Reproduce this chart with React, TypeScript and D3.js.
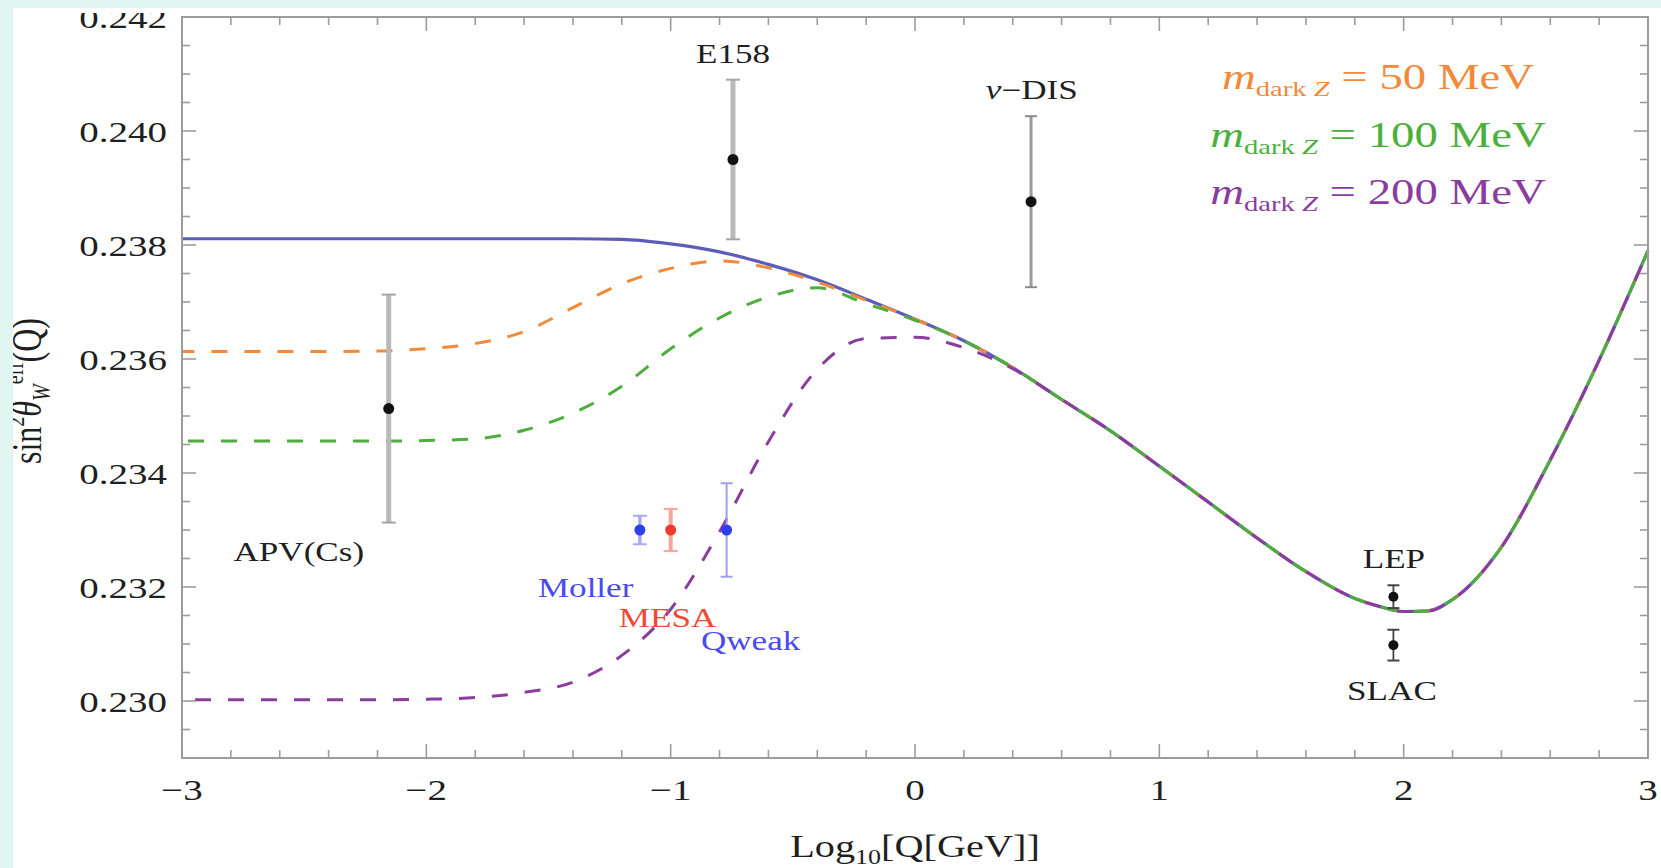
import React, { useLayoutEffect, useRef, useState } from "react";
import * as d3 from "d3";

// ---------- data ----------
const xGrid = [-3, -2.5, -2.2, -2.0, -1.8, -1.6, -1.4, -1.2, -1.0, -0.8, -0.6, -0.4, -0.2, 0, 0.2, 0.4, 0.6, 0.8, 1.0, 1.2, 1.4, 1.6, 1.8, 1.9, 2.0, 2.1, 2.2, 2.4, 2.6, 2.8, 3.0];

const smCurve = [0.23811, 0.23811, 0.23811, 0.23811, 0.23811, 0.23811, 0.23811, 0.2381, 0.23802, 0.23788, 0.23766, 0.23739, 0.23705, 0.2367, 0.23632, 0.23585, 0.23529, 0.23474, 0.23412, 0.23349, 0.23286, 0.23227, 0.2318, 0.23166, 0.23157, 0.23158, 0.23178, 0.2327, 0.23423, 0.23598, 0.2379];

const dark50 = [0.23613, 0.23613, 0.23614, 0.23618, 0.23627, 0.23648, 0.2369, 0.23732, 0.23759, 0.23772, 0.2376, 0.23735, 0.23703, 0.2367, 0.23632, 0.23585, 0.23529, 0.23474, 0.23412, 0.23349, 0.23286, 0.23227, 0.2318, 0.23166, 0.23157, 0.23158, 0.23178, 0.2327, 0.23423, 0.23598, 0.2379];

const dark100 = [0.23456, 0.23456, 0.23456, 0.23457, 0.2346, 0.23475, 0.23505, 0.23552, 0.23618, 0.23672, 0.23709, 0.23725, 0.23697, 0.23668, 0.23632, 0.23585, 0.23529, 0.23474, 0.23412, 0.23349, 0.23286, 0.23227, 0.2318, 0.23166, 0.23157, 0.23158, 0.23178, 0.2327, 0.23423, 0.23598, 0.2379];

const dark200 = [0.23002, 0.23002, 0.23002, 0.23003, 0.23006, 0.23015, 0.23033, 0.2308, 0.23161, 0.23297, 0.23455, 0.23582, 0.23636, 0.23638, 0.2362, 0.23583, 0.23529, 0.23474, 0.23412, 0.23349, 0.23286, 0.23227, 0.2318, 0.23166, 0.23157, 0.23158, 0.23178, 0.2327, 0.23423, 0.23598, 0.2379];

const pointNames = ["APV(Cs)", "E158", "nuDIS", "Moller", "MESA", "Qweak", "LEP", "SLAC"];
const pointX = [-2.154, -0.745, 0.475, -1.126, -1.0, -0.771, 1.958, 1.958];
const pointY = [0.23513, 0.2395, 0.23876, 0.233, 0.233, 0.233, 0.23183, 0.23098];
const pointErr = [0.002, 0.0014, 0.0015, 0.00025, 0.00037, 0.00082, 0.0002, 0.00027];

const labelTexts = ["APV(Cs)", "E158", "DIS", "Moller", "MESA", "Qweak", "LEP", "SLAC"];
const labelX = [-2.522, -0.745, 0.478, -1.348, -1.013, -0.673, 1.96, 1.952];
const labelY = [0.23246, 0.24119, 0.24056, 0.23182, 0.2313, 0.23089, 0.23233, 0.23002];

const xTicks = [-3, -2, -1, 0, 1, 2, 3];
const yTicks = [0.23, 0.232, 0.234, 0.236, 0.238, 0.24, 0.242];
const legendMasses = ["50 MeV", "100 MeV", "200 MeV"];

// ---------- styles ----------
const W = 1661, H = 868;
const M = { left: 182, right: 1648, top: 17, bottom: 758 };
const FONT = "'Liberation Serif', 'Times New Roman', serif";
const SX = 1.3;
const MINT = "#e1f6f1";
const FRAME = "#9c9c9c";
const C_SM = "#5d5db9";
const C_OR = "#f28a3a";
const C_GR = "#4caf3c";
const C_PU = "#8a3d9e";
const seriesColors = [C_OR, C_GR, C_PU];
const DASH = 16, GAP = 17, PERIOD = DASH + GAP;
// phase (along the shared tail of the curves) at which each dashed series starts a dash
const dashPhase = [8, 16, 0];

const pointStyle: Record<string, any> = {
  "APV(Cs)": { bar: "#b9b9b9", bw: 5, cap: "#a5a5a5", capW: 14, dot: "#111", r: 5.5 },
  E158: { bar: "#b9b9b9", bw: 5, cap: "#a5a5a5", capW: 14, dot: "#111", r: 5.5 },
  nuDIS: { bar: "#9a9a9a", bw: 3, cap: "#8a8a8a", capW: 12, dot: "#111", r: 5.5 },
  Moller: { bar: "#a9a9f6", bw: 3.5, cap: "#a9a9f6", capW: 14, dot: "#2f3ff0", r: 5.5 },
  MESA: { bar: "#f3a69a", bw: 4, cap: "#f3a69a", capW: 14, dot: "#ee3a2a", r: 5.5 },
  Qweak: { bar: "#9f9ff2", bw: 2, cap: "#9f9ff2", capW: 12, dot: "#2f3ff0", r: 5.5 },
  LEP: { bar: "#444", bw: 1.8, cap: "#444", capW: 12, dot: "#111", r: 5 },
  SLAC: { bar: "#444", bw: 1.8, cap: "#444", capW: 12, dot: "#111", r: 5 },
};
const labelColors = ["#1f1f1f", "#1f1f1f", "#1f1f1f", "#4a4af0", "#ee4a35", "#4a4af0", "#1f1f1f", "#1f1f1f"];

function SText(props: any) {
  const { x, y, size, fill = "#1f1f1f", anchor = "middle", sx = SX, children } = props;
  return (
    <g transform={`translate(${x},${y}) scale(${sx},1)`}>
      <text x={0} y={0} textAnchor={anchor} fontSize={size} fill={fill} fontFamily={FONT}>
        {children}
      </text>
    </g>
  );
}

export default function App() {
  const x = d3.scaleLinear().domain([-3, 3]).range([M.left, M.right]);
  const y = d3.scaleLinear().domain([0.229, 0.242]).range([M.bottom, M.top]);

  const mkLine = (vals: number[]) =>
    d3
      .line<number>()
      .x((_, i) => x(xGrid[i]))
      .y((d) => y(d))
      .curve(d3.curveMonotoneX)(vals) as string;

  const dashRefs = useRef<(SVGPathElement | null)[]>([]);
  const [offsets, setOffsets] = useState<number[]>([0, 0, 0]);
  useLayoutEffect(() => {
    const o = dashRefs.current.map((p, i) => {
      if (!p) return 0;
      const T = p.getTotalLength();
      // make (T + offset) mod PERIOD equal to dashPhase[i] at the common end point
      return ((dashPhase[i] - T) % PERIOD + PERIOD) % PERIOD;
    });
    setOffsets(o);
  }, []);

  const xMinor = d3.range(-3, 3.0001, 0.2).map((v) => +v.toFixed(2));
  const yMinor = d3.range(0.229, 0.24201, 0.0005).map((v) => +v.toFixed(4));
  const isMajorX = (v: number) => Math.abs(v - Math.round(v)) < 1e-6;
  const isMajorY = (v: number) => Math.abs(v * 500 - Math.round(v * 500)) < 1e-6;
  const majL = 14, minL = 8;

  return (
    <div style={{ position: "fixed", left: 0, top: 0, width: W, height: H }}>
      <svg width={W} height={H} viewBox={`0 0 ${W} ${H}`} style={{ display: "block" }}>
        <rect x={0} y={0} width={W} height={H} fill="#ffffff" />

        {/* curves */}
        <path d={mkLine(smCurve)} fill="none" stroke={C_SM} strokeWidth={3.2} />
        {[dark50, dark100, dark200].map((s, i) => (
          <path
            key={i}
            ref={(el) => {
              dashRefs.current[i] = el;
            }}
            d={mkLine(s)}
            fill="none"
            stroke={seriesColors[i]}
            strokeWidth={3}
            strokeDasharray={`${DASH} ${GAP}`}
            strokeDashoffset={offsets[i]}
          />
        ))}

        {/* frame */}
        <rect x={M.left} y={M.top} width={M.right - M.left} height={M.bottom - M.top} fill="none" stroke={FRAME} strokeWidth={2} />
        {xMinor.map((v, i) => {
          const L = isMajorX(v) ? majL : minL;
          return (
            <g key={"xt" + i} stroke={FRAME} strokeWidth={1.6}>
              <line x1={x(v)} x2={x(v)} y1={M.bottom} y2={M.bottom - L} />
              <line x1={x(v)} x2={x(v)} y1={M.top} y2={M.top + L} />
            </g>
          );
        })}
        {yMinor.map((v, i) => {
          const L = isMajorY(v) ? majL : minL;
          return (
            <g key={"yt" + i} stroke={FRAME} strokeWidth={1.6}>
              <line x1={M.left} x2={M.left + L} y1={y(v)} y2={y(v)} />
              <line x1={M.right} x2={M.right - L} y1={y(v)} y2={y(v)} />
            </g>
          );
        })}

        {/* tick labels */}
        {xTicks.map((t) => (
          <SText key={"xl" + t} x={x(t)} y={800} size={30}>
            {t < 0 ? "\u2212" + Math.abs(t) : String(t)}
          </SText>
        ))}
        {yTicks.map((t) => (
          <SText key={"yl" + t} x={167} y={y(t) + 11} size={30} anchor="end">
            {t.toFixed(3)}
          </SText>
        ))}
        {/* the top tick label is cropped in the original figure */}
        <rect x={13} y={8} width={165} height={5} fill="#ffffff" />

        {/* error bars and points */}
        {pointNames.map((n, i) => {
          const st = pointStyle[n];
          const cx = x(pointX[i]);
          const y0 = y(pointY[i] - pointErr[i]);
          const y1 = y(pointY[i] + pointErr[i]);
          return (
            <g key={"p" + n}>
              <line x1={cx} x2={cx} y1={y0} y2={y1} stroke={st.bar} strokeWidth={st.bw} />
              <line x1={cx - st.capW / 2} x2={cx + st.capW / 2} y1={y0} y2={y0} stroke={st.cap} strokeWidth={2} />
              <line x1={cx - st.capW / 2} x2={cx + st.capW / 2} y1={y1} y2={y1} stroke={st.cap} strokeWidth={2} />
              <circle cx={cx} cy={y(pointY[i])} r={st.r} fill={st.dot} />
            </g>
          );
        })}

        {/* point labels */}
        {labelTexts.map((t, i) => (
          <SText key={"lab" + i} x={x(labelX[i])} y={y(labelY[i])} size={27} fill={labelColors[i]}>
            {t === "DIS" ? (
              <>
                <tspan fontStyle="italic">ν</tspan>
                {"\u2212DIS"}
              </>
            ) : (
              t
            )}
          </SText>
        ))}

        {/* legend */}
        {legendMasses.map((m, i) => (
          <SText key={"lg" + i} x={1378} y={89 + i * 57.5} size={36} fill={seriesColors[i]}>
            <tspan fontStyle="italic">m</tspan>
            <tspan fontSize={22} dy={7}>
              dark <tspan fontStyle="italic">Z</tspan>
            </tspan>
            <tspan dy={-7}>{" = " + m}</tspan>
          </SText>
        ))}

        {/* axis titles */}
        <SText x={915} y={857} size={31}>
          Log<tspan fontSize={20} dy={7}>10</tspan>
          <tspan dy={-7}>[Q[GeV]]</tspan>
        </SText>
        <g transform={`translate(41,391) scale(1.3,1) rotate(-90)`}>
          <text x={0} y={0} textAnchor="middle" fontSize={32} fill="#1f1f1f" fontFamily={FONT}>
            sin<tspan fontSize={20} dy={-13}>2</tspan>
            <tspan fontStyle="italic" dy={13}>θ</tspan>
            <tspan fontStyle="italic" fontSize={20} dy={7}>W</tspan>
            <tspan fontSize={20} dy={-21}>eff</tspan>
            <tspan dy={14}>(Q)</tspan>
          </text>
        </g>

        {/* outer mint border */}
        <rect x={0} y={0} width={W} height={8} fill={MINT} />
        <rect x={0} y={0} width={13} height={H} fill={MINT} />
      </svg>
    </div>
  );
}
